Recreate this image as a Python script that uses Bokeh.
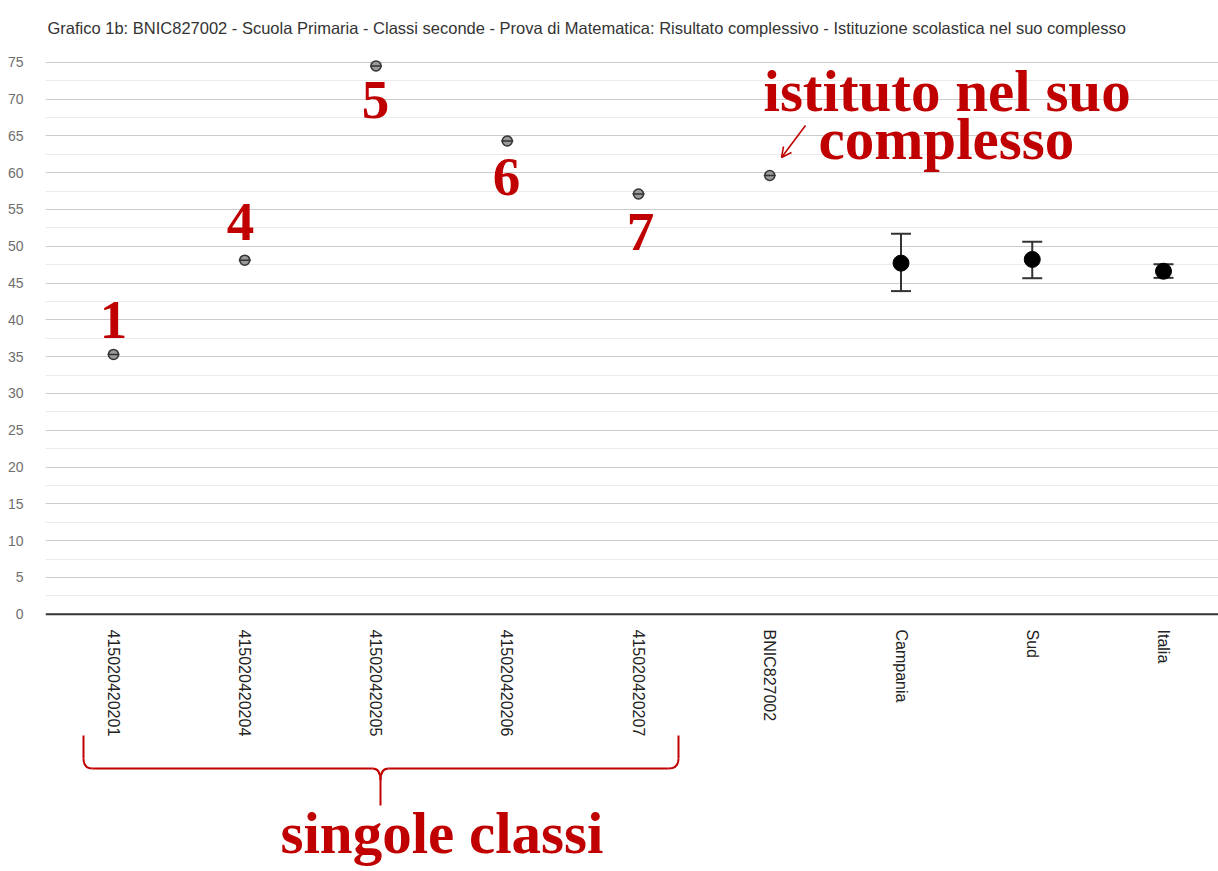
import math
from bokeh.plotting import figure
from bokeh.models import ColumnDataSource, FixedTicker, Range1d, Span, Arrow, OpenHead
from bokeh.core.properties import value
from bokeh.embed import file_html
from bokeh.resources import INLINE

# ---------------- data ----------------
categories = ["415020420201", "415020420204", "415020420205", "415020420206",
              "415020420207", "BNIC827002", "Campania", "Sud", "Italia"]
means = [35.3, 48.1, 74.5, 64.3, 57.1, 59.6, 47.7, 48.2, 46.6]
lower = [35.3, 48.1, 74.5, 64.3, 57.1, 59.6, 43.9, 45.65, 45.7]
upper = [35.3, 48.1, 74.5, 64.3, 57.1, 59.6, 51.7, 50.6, 47.55]
class_numbers = ["1", "4", "5", "6", "7"]
y_ticks = list(range(0, 80, 5))
y_minor = [t + 2.5 for t in range(0, 75, 5)]
title_text = ("Grafico 1b: BNIC827002 - Scuola Primaria - Classi seconde - Prova di "
              "Matematica: Risultato complessivo - Istituzione scolastica nel suo complesso")

RED = "#c00000"

# ---------------- layout helpers (pixel -> data, for annotations only) ----------------
W, H = 1218, 871
LEFT = 45
X0_PX, X_STEP = 113.0, 131.25
Y0_PX, Y_STEP = 613.7, 7.36


def px(X):
    return (X - X0_PX) / X_STEP


def py(Y):
    return (Y0_PX - Y) / Y_STEP


p = figure(width=W, height=H, output_backend="svg", toolbar_location=None,
           x_range=Range1d(px(LEFT), px(W)),
           y_range=Range1d(py(H), py(0)),
           x_axis_location=None, min_border_left=LEFT, min_border_right=0,
           min_border_top=0, min_border_bottom=0)
p.outline_line_color = None
p.background_fill_color = "white"
p.border_fill_color = "white"

ticker = FixedTicker(ticks=y_ticks, minor_ticks=y_minor)
p.yaxis.ticker = ticker
p.yaxis.axis_line_color = None
p.yaxis.major_tick_line_color = None
p.yaxis.minor_tick_line_color = None
p.yaxis.major_label_standoff = 16
p.yaxis.major_label_text_font = "Liberation Sans"
p.yaxis.major_label_text_font_size = "14px"
p.yaxis.major_label_text_color = "#6e6e6e"

p.xgrid.visible = False
p.ygrid.ticker = ticker
p.ygrid.grid_line_color = "#cccccc"
p.ygrid.minor_grid_line_color = "#ebebeb"

p.add_layout(Span(location=0, dimension="width", line_color="#333333", line_width=2))

xs = list(range(len(categories)))
n_single = 6
src_single = ColumnDataSource(dict(x=xs[:n_single], y=means[:n_single]))
src_big = ColumnDataSource(dict(x=xs[n_single:], y=means[n_single:],
                                lo=lower[n_single:], hi=upper[n_single:]))

# error bars
p.segment(x0="x", y0="lo", x1="x", y1="hi", source=src_big, line_color="#333333", line_width=2)
p.scatter(x="x", y="lo", source=src_big, marker="dash", size=20, line_color="#333333", line_width=2)
p.scatter(x="x", y="hi", source=src_big, marker="dash", size=20, line_color="#333333", line_width=2)
p.scatter(x="x", y="y", source=src_big, marker="circle", size=16, fill_color="black", line_color="black")

# single points
p.scatter(x="x", y="y", source=src_single, marker="circle", size=10,
          fill_color="#9a9a9a", line_color="#333333", line_width=1.5)
p.scatter(x="x", y="y", source=src_single, marker="dash", size=12,
          line_color="#333333", line_width=1.5)

# x labels (rotated)
p.text(x=xs, y=[py(629)] * len(xs), text=categories, angle=-math.pi / 2,
       text_align="left", text_baseline="middle", text_font=value("Liberation Sans"),
       text_font_size="16px", text_color="#222222")

# title
p.text(x=[px(47)], y=[py(27)], text=[title_text], text_align="left", text_baseline="middle",
       text_font=value("Liberation Sans"), text_font_size="16.5px", text_color="#333333")

# class number annotations (vertical centres of the em box)
num_pos_x = [113, 240, 375, 506, 640]
num_pos_y = [319, 221, 99, 176, 231]
p.text(x=[px(v) for v in num_pos_x], y=[py(v) for v in num_pos_y], text=class_numbers,
       text_align="center", text_baseline="middle", text_font=value("Liberation Serif"),
       text_font_style="bold", text_font_size="55px", text_color=RED)

# big annotations
p.text(x=[px(763), px(818), px(280)], y=[py(90), py(138), py(832)],
       text=["istituto nel suo", "complesso", "singole classi"],
       text_align="left", text_baseline="middle", text_font=value("Liberation Serif"),
       text_font_style="bold", text_font_size="59px", text_color=RED)

# arrow to institute point
p.add_layout(Arrow(end=OpenHead(size=10, line_color=RED, line_width=1.5),
                   x_start=px(805), y_start=py(125), x_end=px(781), y_end=py(157),
                   line_color=RED, line_width=1.5))

# curly bracket under single classes
lw = 2
p.segment(x0=[px(83), px(92), px(388), px(678), px(380)],
          y0=[py(735), py(768), py(768), py(735), py(780)],
          x1=[px(83), px(372), px(668), px(678), px(380)],
          y1=[py(758), py(768), py(768), py(758), py(805)],
          line_color=RED, line_width=lw)
p.quadratic(x0=[px(83), px(372), px(388), px(668)],
            y0=[py(758), py(768), py(768), py(768)],
            x1=[px(92), px(380), px(380), px(678)],
            y1=[py(768), py(780), py(780), py(758)],
            cx=[px(83), px(380), px(380), px(678)],
            cy=[py(768), py(768), py(768), py(768)],
            line_color=RED, line_width=lw)

open("out.html", "w").write(file_html(p, INLINE))
